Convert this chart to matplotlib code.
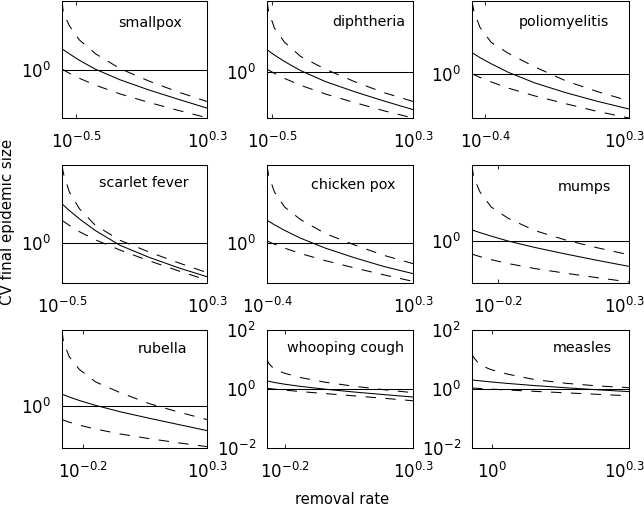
import matplotlib
matplotlib.use("Agg")
import matplotlib.pyplot as plt
from matplotlib.ticker import NullLocator
from matplotlib.transforms import ScaledTranslation

# panels, left to right, top to bottom
diseases = ['smallpox', 'diphtheria', 'poliomyelitis',
            'scarlet fever', 'chicken pox', 'mumps',
            'rubella', 'whooping cough', 'measles']

removal_rate = [
    [0.260, 0.265, 0.288, 0.332, 0.416, 0.587, 0.883, 1.327, 1.995],
    [0.296, 0.302, 0.326, 0.372, 0.459, 0.635, 0.931, 1.361, 1.995],
    [0.344, 0.351, 0.376, 0.426, 0.515, 0.695, 0.989, 1.403, 1.995],
    [0.316, 0.322, 0.347, 0.394, 0.483, 0.661, 0.955, 1.380, 1.995],
    [0.398, 0.405, 0.432, 0.483, 0.577, 0.759, 1.047, 1.445, 1.995],
    [0.502, 0.509, 0.538, 0.593, 0.690, 0.873, 1.148, 1.514, 1.995],
    [0.519, 0.526, 0.555, 0.610, 0.708, 0.889, 1.164, 1.524, 1.995],
    [0.537, 0.544, 0.573, 0.628, 0.726, 0.908, 1.180, 1.535, 1.995],
    [0.902, 0.908, 0.938, 0.991, 1.081, 1.239, 1.452, 1.702, 1.995],
]

cv_mean = [
    [1.82, 1.77, 1.585, 1.318, 1.028, 0.766, 0.575, 0.445, 0.347],
    [1.85, 1.80, 1.60, 1.334, 1.035, 0.762, 0.573, 0.443, 0.348],
    [1.82, 1.77, 1.589, 1.34, 1.057, 0.783, 0.594, 0.468, 0.378],
    [2.96, 2.84, 2.455, 1.95, 1.409, 0.938, 0.673, 0.506, 0.394],
    [1.85, 1.81, 1.64, 1.406, 1.13, 0.859, 0.658, 0.518, 0.425],
    [1.355, 1.334, 1.259, 1.143, 0.995, 0.832, 0.692, 0.581, 0.492],
    [1.368, 1.346, 1.265, 1.148, 1.005, 0.843, 0.705, 0.594, 0.501],
    [1.88, 1.83, 1.67, 1.459, 1.227, 0.982, 0.787, 0.646, 0.535],
    [2.03, 2.00, 1.897, 1.74, 1.542, 1.306, 1.099, 0.94, 0.815],
]

cv_upper = [
    [6.92, 5.01, 3.47, 2.33, 1.585, 1.047, 0.738, 0.545, 0.417],
    [7.24, 5.50, 3.40, 2.29, 1.54, 1.076, 0.759, 0.560, 0.437],
    [7.73, 5.86, 3.70, 2.44, 1.80, 1.225, 0.824, 0.614, 0.474],
    [8.55, 6.79, 4.09, 2.58, 1.63, 1.076, 0.780, 0.581, 0.441],
    [8.47, 6.43, 4.06, 2.68, 1.89, 1.282, 0.938, 0.705, 0.560],
    [8.17, 5.92, 3.91, 2.58, 1.87, 1.33, 1.019, 0.824, 0.679],
    [7.87, 5.81, 3.84, 2.70, 1.92, 1.43, 1.057, 0.839, 0.679],
    [10.35, 7.55, 4.71, 3.44, 2.44, 1.69, 1.233, 0.949, 0.750],
    [15.7, 12.1, 6.62, 4.58, 3.18, 2.08, 1.56, 1.27, 1.11],
]

cv_lower = [
    [1.04, 1.01, 0.920, 0.798, 0.658, 0.516, 0.406, 0.326, 0.265],
    [1.076, 1.05, 0.959, 0.832, 0.687, 0.538, 0.423, 0.337, 0.275],
    [1.01, 0.988, 0.914, 0.806, 0.679, 0.545, 0.436, 0.353, 0.294],
    [1.87, 1.82, 1.626, 1.368, 1.091, 0.822, 0.612, 0.465, 0.359],
    [1.047, 1.028, 0.959, 0.861, 0.74, 0.608, 0.497, 0.411, 0.343],
    [0.692, 0.682, 0.646, 0.594, 0.532, 0.463, 0.406, 0.359, 0.319],
    [0.679, 0.668, 0.632, 0.582, 0.523, 0.457, 0.402, 0.358, 0.322],
    [1.054, 1.04, 0.993, 0.917, 0.818, 0.698, 0.583, 0.485, 0.399],
    [1.08, 1.074, 1.042, 0.993, 0.923, 0.832, 0.741, 0.661, 0.589],
]

cv_limits = [(0.263, 6.92), (0.275, 7.24), (0.294, 7.73),
             (0.331, 8.63), (0.328, 8.55), (0.310, 8.24),
             (0.310, 8.02), (0.01, 100), (0.01, 100)]

# exponents of the left x tick label (right one is always 0.3)
x_tick_exp = [-0.5, -0.5, -0.4, -0.5, -0.4, -0.2, -0.2, -0.2, 0]

# layout in pixels
W, H = 644, 508
col_left = [62, 267, 472]
col_width = [145, 146, 157]
row_top = [1, 165, 330]
row_height = [117, 118, 118]
title_x = [0.61, 0.695, 0.583, 0.566, 0.592, 0.717, 0.69, 0.541, 0.704]
title_y = [0.778, 0.786, 0.786, 0.814, 0.797, 0.78, 0.805, 0.814, 0.814]

lw = 0.75
fig = plt.figure(figsize=(W / 100, H / 100), dpi=100)

for i, name in enumerate(diseases):
    r, c = divmod(i, 3)
    ax = fig.add_axes([col_left[c] / W, 1 - (row_top[r] + row_height[r]) / H,
                       col_width[c] / W, row_height[r] / H])
    ax.set_xscale('log')
    ax.set_yscale('log')

    ax.axhline(1, color='k', lw=lw)
    ax.plot(removal_rate[i], cv_mean[i], color='k', lw=lw)
    ax.plot(removal_rate[i], cv_upper[i], color='k', lw=lw, dashes=(10, 9))
    ax.plot(removal_rate[i], cv_lower[i], color='k', lw=lw, dashes=(10, 9))

    ax.set_xlim(removal_rate[i][0], removal_rate[i][-1])
    ax.set_ylim(*cv_limits[i])

    e = x_tick_exp[i]
    ax.set_xticks([10 ** e, 10 ** 0.3])
    ax.set_xticklabels([r'$10^{%g}$' % e, r'$10^{0.3}$'])
    if cv_limits[i][0] <= 0.01:
        ax.set_yticks([0.01, 1, 100])
        ax.set_yticklabels([r'$10^{-2}$', r'$10^{0}$', r'$10^{2}$'])
    else:
        ax.set_yticks([1])
        ax.set_yticklabels([r'$10^{0}$'])
    ax.xaxis.set_minor_locator(NullLocator())
    ax.yaxis.set_minor_locator(NullLocator())

    ax.tick_params(direction='in', top=True, right=True, length=3,
                   width=0.6, labelsize=12)
    ax.tick_params(axis='x', pad=10)
    ax.tick_params(axis='y', pad=8)
    for s in ax.spines.values():
        s.set_linewidth(lw)

    # keep the right-hand label of the last column inside the figure
    if c == 2:
        lab = ax.get_xticklabels()[1]
        lab.set_transform(lab.get_transform() +
                          ScaledTranslation(-5 / 100, 0, fig.dpi_scale_trans))

    ax.text(title_x[i], title_y[i], name, transform=ax.transAxes,
            ha='center', va='baseline', fontsize=10.3)

fig.text(8 / W, 1 - 222 / H, 'CV final epidemic size', rotation=90,
         ha='center', va='center', fontsize=10.8)
fig.text(342 / W, 1 - 500 / H, 'removal rate', ha='center', va='center',
         fontsize=10.5)

fig.savefig('out.png', dpi=100)
